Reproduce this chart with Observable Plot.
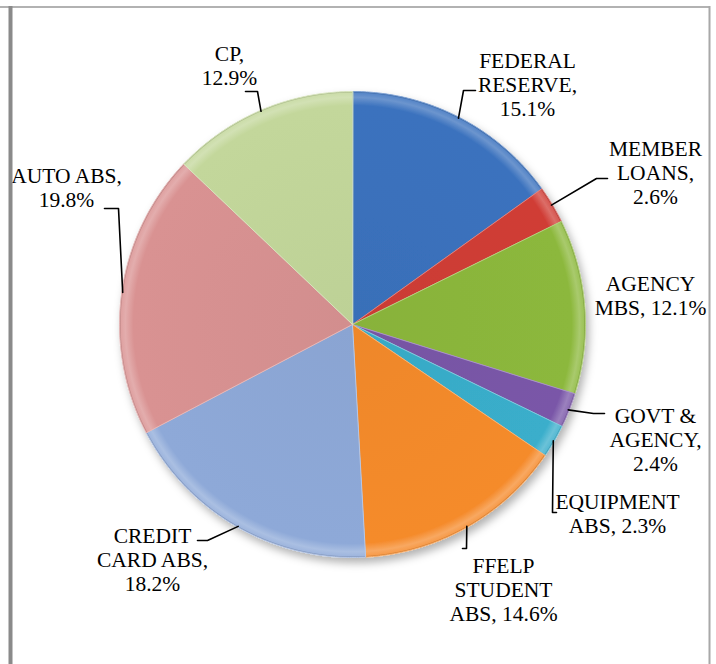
<!DOCTYPE html>
<html><head><meta charset="utf-8">
<script src="https://cdn.jsdelivr.net/npm/d3@7"></script>
<script src="https://cdn.jsdelivr.net/npm/@observablehq/plot@0.6"></script>
<style>body{margin:0;background:#fff}</style>
</head><body><div id="chart"></div>
<script>
// ---- data ----
const categories = ["FEDERAL RESERVE","MEMBER LOANS","AGENCY MBS","GOVT & AGENCY","EQUIPMENT ABS","FFELP STUDENT ABS","CREDIT CARD ABS","AUTO ABS","CP"];
const values = [15.1, 2.6, 12.1, 2.4, 2.3, 14.6, 18.2, 19.8, 12.9];
const labelLines = [
  ["FEDERAL","RESERVE,","15.1%"],
  ["MEMBER","LOANS,","2.6%"],
  ["AGENCY","MBS, 12.1%"],
  ["GOVT &","AGENCY,","2.4%"],
  ["EQUIPMENT","ABS, 2.3%"],
  ["FFELP","STUDENT","ABS, 14.6%"],
  ["CREDIT","CARD ABS,","18.2%"],
  ["AUTO ABS,","19.8%"],
  ["CP,","12.9%"]
];
const colors = ["#3b72be","#d03d36","#8cb83c","#7a57a8","#3aaecb","#f58b2c","#8ea9d8","#d99292","#c3d79b"];

// ---- layout ----
const W = 716, H = 664;
const pieCenter = [352, 324], pieRadius = 233;
const labelAnchor = [[527,50],[655,138],[650,273],[655,405],[617,491],[503,555],[152,525],[66,165],[229,43]];
const leaderBends = [
  [[475,90],[463,90]],
  [[607,178],[596,178]],
  null,
  [[604,413],[593,413]],
  [[556,512],[552,512]],
  [[462,548],[466,548]],
  [[197,540],[207,540]],
  [[104,208],[118,208]],
  [[245,91],[257,91]]
];

const data = categories.map((c,i)=>({name:c, value:values[i], color:colors[i], lines:labelLines[i]}));
const arcs = d3.pie().sort(null).value(d=>d.value)(data);
const [cx, cy] = pieCenter;
const pt = (a, r) => [cx + r*Math.sin(a), cy - r*Math.cos(a)];

const slicePts = [];
arcs.forEach((a,i)=>{
  const d = a.data;
  const fill = `url(#grad${i})`;
  const edge = d3.interpolateRgb(d.color, "#ffffff")(0.35);
  slicePts.push({name:d.name, x:cx, y:cy, fill, edge});
  const n = Math.max(4, Math.ceil((a.endAngle-a.startAngle)/0.01));
  for (let k=0;k<=n;k++){
    const ang = a.startAngle + (a.endAngle-a.startAngle)*k/n;
    const [x,y] = pt(ang, pieRadius);
    slicePts.push({name:d.name, x, y, fill, edge});
  }
});

const leaderPts = [];
arcs.forEach((a,i)=>{
  const b = leaderBends[i];
  if (!b) return;
  const mid = (a.startAngle + a.endAngle)/2;
  const [ex, ey] = pt(mid, pieRadius - 1);
  leaderPts.push({name:a.data.name, x:b[0][0], y:b[0][1]});
  leaderPts.push({name:a.data.name, x:b[1][0], y:b[1][1]});
  leaderPts.push({name:a.data.name, x:ex, y:ey});
});

const labels = data.map((d,i)=>({x:labelAnchor[i][0], y:labelAnchor[i][1], text:d.lines.join("\n")}));

const svg = Plot.plot({
  width: W, height: H, margin: 0,
  x: {domain:[0,W], range:[0,W], axis:null},
  y: {domain:[0,H], range:[0,H], axis:null},
  color: {type:"identity"},
  style: {background:"#fff", overflow:"visible"},
  marks: [
    Plot.line(slicePts, {x:"x", y:"y", z:"name", fill:"fill", stroke:"edge", strokeWidth:1, curve:"linear-closed"}),
    Plot.line(leaderPts, {x:"x", y:"y", z:"name", stroke:"#000", strokeWidth:1.6}),
    Plot.text(labels, {x:"x", y:"y", text:"text", fontSize:21.5, fontFamily:"Liberation Serif, Times New Roman, serif", lineAnchor:"top", lineHeight:1.12, textAnchor:"middle", fill:"#000"}),
    Plot.ruleY([6.5], {x1:0, x2:710, stroke:"#999", strokeWidth:1.5}),
    Plot.ruleX([10], {y1:6, y2:H, stroke:"#8a8a8a", strokeWidth:4}),
    Plot.ruleX([709], {y1:6, y2:H, stroke:"#a8a8a8", strokeWidth:2})
  ]
});

// gradients + shadow
const NS = "http://www.w3.org/2000/svg";
const defs = document.createElementNS(NS, "defs");
arcs.forEach((a,i)=>{
  const base = a.data.color;
  const g = document.createElementNS(NS, "radialGradient");
  g.setAttribute("id", `grad${i}`);
  g.setAttribute("gradientUnits", "userSpaceOnUse");
  g.setAttribute("cx", cx); g.setAttribute("cy", cy); g.setAttribute("r", pieRadius);
  const stops = [
    [0, d3.interpolateRgb(base,"#000")(0.03)],
    [0.94, base],
    [0.975, d3.interpolateRgb(base,"#fff")(0.25)],
    [0.993, d3.interpolateRgb(base,"#fff")(0.15)],
    [1, d3.interpolateRgb(base,"#000")(0.2)]
  ];
  for (const [o,c] of stops){
    const s = document.createElementNS(NS, "stop");
    s.setAttribute("offset", o); s.setAttribute("stop-color", c);
    g.appendChild(s);
  }
  defs.appendChild(g);
});
const f = document.createElementNS(NS, "filter");
f.setAttribute("id","shadow"); f.setAttribute("x","-10%"); f.setAttribute("y","-10%"); f.setAttribute("width","125%"); f.setAttribute("height","125%");
const ds = document.createElementNS(NS, "feDropShadow");
ds.setAttribute("dx","3"); ds.setAttribute("dy","5"); ds.setAttribute("stdDeviation","4");
ds.setAttribute("flood-color","#000"); ds.setAttribute("flood-opacity","0.3");
f.appendChild(ds); defs.appendChild(f);
svg.insertBefore(defs, svg.firstChild);
const sliceGroup = svg.querySelector('g[aria-label="line"]');
if (sliceGroup) sliceGroup.setAttribute("filter","url(#shadow)");

document.getElementById("chart").appendChild(svg);
</script>
</body></html>
